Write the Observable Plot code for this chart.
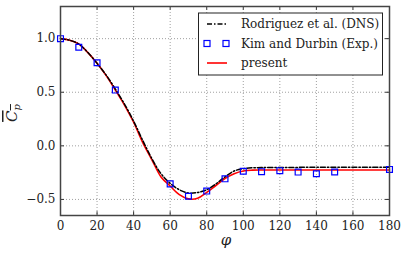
<!DOCTYPE html>
<html><head><meta charset="utf-8">
<script src="https://cdn.jsdelivr.net/npm/d3@7"></script>
<script src="https://cdn.jsdelivr.net/npm/@observablehq/plot@0.6"></script>
<style>
body{margin:0;background:#fff}
</style>
</head><body><div id="chart"></div>
<script>
// Present simulation (red solid)
const presentPhi = [0,5,10,15,20,25,30,35,40,45,50,55,60,65,70,75,80,85,90,95,100,105,110,120,130,140,150,160,170,180];
const presentCp  = [1.0,0.985,0.95,0.87,0.77,0.655,0.52,0.38,0.22,0.03,-0.13,-0.29,-0.375,-0.455,-0.495,-0.49,-0.435,-0.37,-0.305,-0.26,-0.235,-0.227,-0.225,-0.225,-0.225,-0.225,-0.225,-0.225,-0.225,-0.225];
// Rodriguez et al. DNS (black dash-dot)
const dnsPhi = [0,5,10,15,20,25,30,35,40,45,50,55,60,65,70,75,80,85,90,95,100,105,110,120,130,140,150,160,170,180];
const dnsCp  = [1.0,0.985,0.95,0.87,0.77,0.66,0.53,0.39,0.23,0.05,-0.12,-0.26,-0.35,-0.41,-0.44,-0.435,-0.41,-0.355,-0.29,-0.235,-0.213,-0.205,-0.203,-0.202,-0.201,-0.2,-0.2,-0.2,-0.2,-0.2];
// Kim and Durbin experiment (blue squares)
const expPhi = [0,10,20,30,60,70,80,90,100,110,120,130,140,150,180];
const expCp  = [1.0,0.92,0.775,0.52,-0.355,-0.47,-0.422,-0.308,-0.237,-0.241,-0.232,-0.245,-0.26,-0.244,-0.22];

const xTicks = [0,20,40,60,80,100,120,140,160,180];
const yTicks = [-0.5,0.0,0.5,1.0];
const xDomain = [0,180];
const yDomain = [-0.65,1.3];
const legendLabels = ["Rodriguez et al. (DNS)","Kim and Durbin (Exp.)","present"];

const FONT = '"DejaVu Serif", "DejaVu Sans", sans-serif';

const present = presentPhi.map((p,i)=>({phi:p,cp:presentCp[i]}));
const dns = dnsPhi.map((p,i)=>({phi:p,cp:dnsCp[i]}));
const exp = expPhi.map((p,i)=>({phi:p,cp:expCp[i]}));

const fmt = d => d.toFixed(1).replace("-","\u2212");
const tx = (yDomain[1]-yDomain[0])*0.018, ty = (xDomain[1]-xDomain[0])*0.012;
const gridX = xTicks.filter(t=>t>xDomain[0]&&t<xDomain[1]);
const gridY = yTicks;

const plot = Plot.plot({
  width: 407, height: 257,
  marginLeft: 60, marginRight: 18, marginTop: 6, marginBottom: 42,
  style: {fontSize: "12px", background: "#fff", fontFamily: FONT, color: "#222"},
  x: {domain: xDomain, ticks: xTicks},
  y: {domain: yDomain, ticks: yTicks},
  marks: [
    Plot.ruleX(gridX, {stroke: "#888", strokeDasharray: "1,2", strokeWidth: 0.8}),
    Plot.ruleY(gridY, {stroke: "#888", strokeDasharray: "1,2", strokeWidth: 0.8}),
    // inward ticks
    Plot.ruleX(xTicks, {y1: yDomain[0], y2: yDomain[0]+tx, stroke: "#333"}),
    Plot.ruleX(xTicks, {y1: yDomain[1], y2: yDomain[1]-tx, stroke: "#333"}),
    Plot.ruleY(yTicks, {x1: xDomain[0], x2: xDomain[0]+ty, stroke: "#333"}),
    Plot.ruleY(yTicks, {x1: xDomain[1], x2: xDomain[1]-ty, stroke: "#333"}),
    Plot.axisX({ticks: xTicks, tickSize: 0, tickPadding: 6, label: null, fontSize: 12}),
    Plot.axisY({ticks: yTicks, tickSize: 0, tickPadding: 5, label: null, tickFormat: fmt, fontSize: 12}),
    Plot.line(present, {x: "phi", y: "cp", stroke: "#ff0000", strokeWidth: 1.6, curve: "catmull-rom"}),
    Plot.line(dns, {x: "phi", y: "cp", stroke: "#000", strokeWidth: 1.5, strokeDasharray: "5,2,1.5,2", curve: "catmull-rom"}),
    Plot.dot(exp, {x: "phi", y: "cp", symbol: "square", r: 3.3, stroke: "#0000ff", strokeWidth: 1.2, fill: "none"}),
    Plot.frame({stroke: "#444", strokeWidth: 1.5})
  ]
});

const svg = d3.select(plot);
// axis labels
svg.append("text").attr("x", 226).attr("y", 245).attr("text-anchor","middle")
  .style("font-style","italic").style("font-size","15px").text("\u03C6");
const yl = svg.append("text").attr("transform","translate(17,113) rotate(-90)")
  .attr("text-anchor","middle").style("font-size","15px").style("font-style","italic")
  .style("text-decoration","overline");
yl.append("tspan").text("C");
yl.append("tspan").attr("dy","3").style("font-size","10px").text("p");

// legend
const lg = svg.append("g").attr("text-anchor","start");
lg.append("rect").attr("x",198.5).attr("y",13).attr("width",184).attr("height",62)
  .style("fill","#fff").style("stroke","#222").style("stroke-width","1");
const rows = [24,43.5,63];
lg.append("line").attr("x1",207).attr("x2",227).attr("y1",rows[0]).attr("y2",rows[0])
  .style("stroke","#000").style("stroke-width","1.5").style("stroke-dasharray","5,2,1.5,2");
[207,226].forEach(x=>lg.append("rect").attr("x",x-3).attr("y",rows[1]-3).attr("width",6).attr("height",6)
  .style("fill","none").style("stroke","#0000ff").style("stroke-width","1.2"));
lg.append("line").attr("x1",207).attr("x2",227).attr("y1",rows[2]).attr("y2",rows[2])
  .style("stroke","#ff0000").style("stroke-width","1.6");
legendLabels.forEach((t,i)=>lg.append("text").attr("x",241).attr("y",rows[i]).attr("dy","0.35em")
  .attr("text-anchor","start").style("font-size","12px").text(t));

svg.selectAll("text").style("font-family", FONT);
document.getElementById("chart").appendChild(plot);
</script>
</body></html>
